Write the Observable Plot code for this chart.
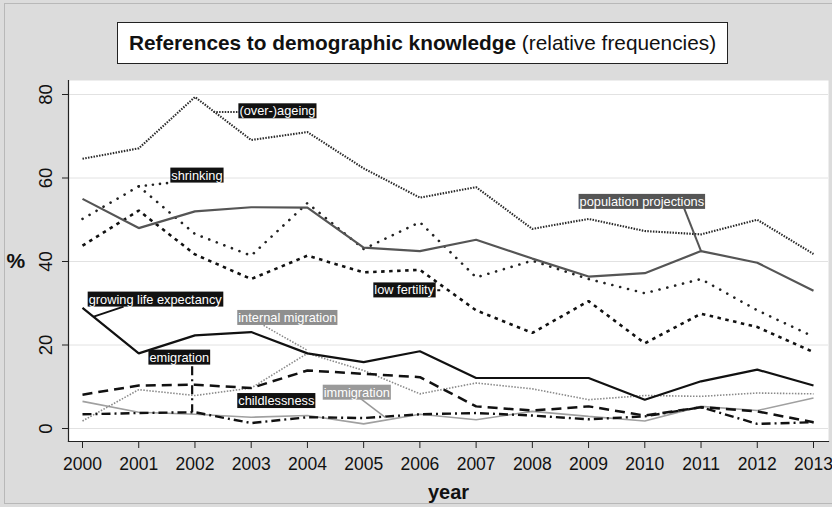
<!DOCTYPE html>
<html><head><meta charset="utf-8">
<script src="https://cdn.jsdelivr.net/npm/d3@7"></script>
<script src="https://cdn.jsdelivr.net/npm/@observablehq/plot@0.6"></script>
<style>
html,body{margin:0;padding:0;background:#dcdcdc;}
#wrap{position:relative;width:832px;height:507px;overflow:hidden;background:#dcdcdc;}
#border{position:absolute;left:4px;top:3px;width:840px;height:501px;border:1px solid #b8b8b8;box-sizing:border-box;}
#chart{position:absolute;left:0;top:0;}
#title{position:absolute;left:117px;top:22px;width:611px;height:42px;background:#fff;border:1.5px solid #222;box-sizing:border-box;font-family:"Liberation Sans",Arial,sans-serif;font-size:20.8px;line-height:39px;text-align:center;color:#111;white-space:nowrap;}
</style></head>
<body>
<div id="wrap"><div id="border"></div><div id="chart"></div><div id="title"><b>References to demographic knowledge</b> (relative frequencies)</div></div>
<script>
const years = [2000,2001,2002,2003,2004,2005,2006,2007,2008,2009,2010,2011,2012,2013];
const yTicks = [0,20,40,60,80];

const ageing            = [64.6,67.1,79.4,69.1,71.0,62.3,55.3,57.8,47.8,50.2,47.3,46.5,50.0,41.8];
const projections       = [55.0,48.0,52.0,53.0,52.9,43.3,42.5,45.2,40.7,36.4,37.2,42.5,39.7,33.0];
const shrinking         = [50.2,58.0,46.6,41.4,54.0,43.0,49.4,36.2,40.2,35.8,32.4,35.8,28.3,22.0];
const lowFertility      = [43.8,52.2,41.7,35.8,41.4,37.4,38.0,28.3,22.9,30.5,20.4,27.5,24.3,18.3];
const lifeExpectancy    = [28.9,18.0,22.3,23.1,18.0,15.9,18.5,12.1,12.1,12.1,6.9,11.3,14.1,10.3];
const internalMigration = [1.8,9.3,7.9,9.7,18.0,13.9,8.3,10.9,9.5,6.9,7.9,7.7,8.5,8.3];
const emigration        = [8.1,10.3,10.5,9.7,13.9,13.1,12.3,5.3,4.3,5.3,3.1,5.1,4.1,1.5];
const childlessness     = [3.4,3.7,3.9,1.3,2.7,2.5,3.4,3.7,3.1,2.2,2.9,5.1,1.1,1.5];
const immigration       = [6.5,3.9,3.4,2.7,3.1,1.1,3.4,2.1,4.1,2.9,1.8,5.3,4.3,7.3];

// callout labels: text, anchor year, anchor value, box colour
const labelText  = ["(over-)ageing","shrinking","population projections","low fertility","growing life expectancy","internal migration","emigration","childlessness","immigration"];
const labelYear  = [2002.79,2001.58,2008.84,2005.19,2000.11,2002.77,2001.19,2002.77,2004.29];
const labelValue = [76.0,60.6,54.3,33.1,30.9,26.5,17.0,6.6,8.6];
const labelBox   = ["#111","#111","#555","#111","#111","#8f8f8f","#111","#111","#9a9a9a"];

// connector lines between labels and series
const connFrom = [[2002.33,75.8],[2001.0,58.0],[2010.70,52.7],[2000.2,26.8],[2003.22,24.7],[2001.95,14.9],[2004.94,7.2],[2006.22,33.1]];
const connTo   = [[2002.79,75.8],[2001.58,58.9],[2011.0,42.5],[2000.73,29.2],[2004.0,18.7],[2001.95,3.9],[2005.39,2.6],[2006.38,33.1]];
const connStroke = ["#333","#222","#555","#111","#888","#111","#999","#111"];
const connDash   = ["1.5,1.3","0.1,7","none","none","1.5,1.5","9,4,2,4","none","3,2"];
const connWidth  = [2.1,2.6,2,2,1.5,2.2,1.5,2];

const series = [
  {v: immigration,       stroke:"#a0a0a0", w:1.6, dash:"none", cap:"butt"},
  {v: internalMigration, stroke:"#8a8a8a", w:1.6, dash:"1.5,1.5", cap:"butt"},
  {v: childlessness,     stroke:"#111",    w:2.4, dash:"9,4,2,4", cap:"butt"},
  {v: emigration,        stroke:"#111",    w:2.5, dash:"10,6", cap:"butt"},
  {v: lifeExpectancy,    stroke:"#111",    w:2.2, dash:"none", cap:"butt"},
  {v: lowFertility,      stroke:"#111",    w:2.6, dash:"3.5,4.5", cap:"butt"},
  {v: shrinking,         stroke:"#222",    w:2.6, dash:"0.1,8", cap:"round"},
  {v: projections,       stroke:"#555",    w:2.2, dash:"none", cap:"butt"},
  {v: ageing,            stroke:"#2a2a2a", w:2.1, dash:"1.5,1.3", cap:"butt"}
];

const font = "'Liberation Sans',Arial,sans-serif";

const lineMarks = series.map(s => Plot.line(years.map((yr,i)=>({year:yr, value:s.v[i]})), {
  x:"year", y:"value", stroke:s.stroke, strokeWidth:s.w, strokeDasharray:s.dash, strokeLinecap:s.cap, strokeLinejoin:"miter"
}));

const connMarks = connFrom.map((f,i) => Plot.link([{x1:f[0],y1:f[1],x2:connTo[i][0],y2:connTo[i][1]}], {
  x1:"x1", y1:"y1", x2:"x2", y2:"y2", stroke:connStroke[i], strokeWidth:connWidth[i], strokeDasharray:connDash[i], strokeLinecap: connDash[i]==="0.1,7" ? "round" : "butt"
}));

const labels = labelText.map((t,i)=>({text:t, year:labelYear[i], value:labelValue[i], box:labelBox[i]}));

const chart = Plot.plot({
  width: 832, height: 507,
  marginLeft: 68, marginRight: 4, marginTop: 80, marginBottom: 66,
  x: {domain:[2000,2013], insetLeft:14, insetRight:15},
  y: {domain:[0,80], insetTop:14, insetBottom:13},
  style: {background:"transparent", fontFamily: font, color:"#111", overflow:"visible"},
  marks: [
    Plot.frame({fill:"white"}),
    Plot.gridY(yTicks, {stroke:"#e2e2e2", strokeOpacity:1, strokeWidth:1}),
    Plot.frame({anchor:"left", stroke:"#222", strokeWidth:1.2}),
    Plot.frame({anchor:"bottom", stroke:"#222", strokeWidth:1.2}),
    Plot.axisY(yTicks, {tickSize:6, tickRotate:-90, tickPadding:11, fontSize:18.5, label:null, stroke:"#222"}),
    Plot.axisX(years, {tickSize:7, tickPadding:9, fontSize:17.5, label:null, tickFormat:d=>String(d), stroke:"#222"}),
    Plot.text(["year"], {frameAnchor:"bottom", dy:57, fontWeight:"bold", fontSize:20, fill:"#111"}),
    Plot.text(["%"], {frameAnchor:"left", dx:-62, fontWeight:"bold", fontSize:21, fill:"#111"}),
    ...lineMarks,
    ...connMarks,
    Plot.text(labels, {x:"year", y:"value", text:"text", textAnchor:"start", fill:"white", fontSize:12.8, fontFamily:"'Liberation Sans',Arial,sans-serif"})
  ]
});
document.getElementById("chart").appendChild(chart);

// draw the coloured boxes behind each callout text
const groups = Array.from(chart.querySelectorAll('g[aria-label="text"]'));
const g = groups.find(el => el.querySelectorAll("text").length === labels.length);
if (g) {
  const texts = Array.from(g.querySelectorAll("text"));
  texts.forEach((t,i) => {
    const b = t.getBBox();
    const r = document.createElementNS("http://www.w3.org/2000/svg","rect");
    r.setAttribute("x", b.x - 1);
    r.setAttribute("y", b.y);
    r.setAttribute("width", b.width + 2);
    r.setAttribute("height", b.height);
    r.setAttribute("fill", labels[i].box);
    const tr = t.getAttribute("transform");
    if (tr) r.setAttribute("transform", tr);
    t.parentNode.insertBefore(r, t);
  });
}
</script>
</body></html>
